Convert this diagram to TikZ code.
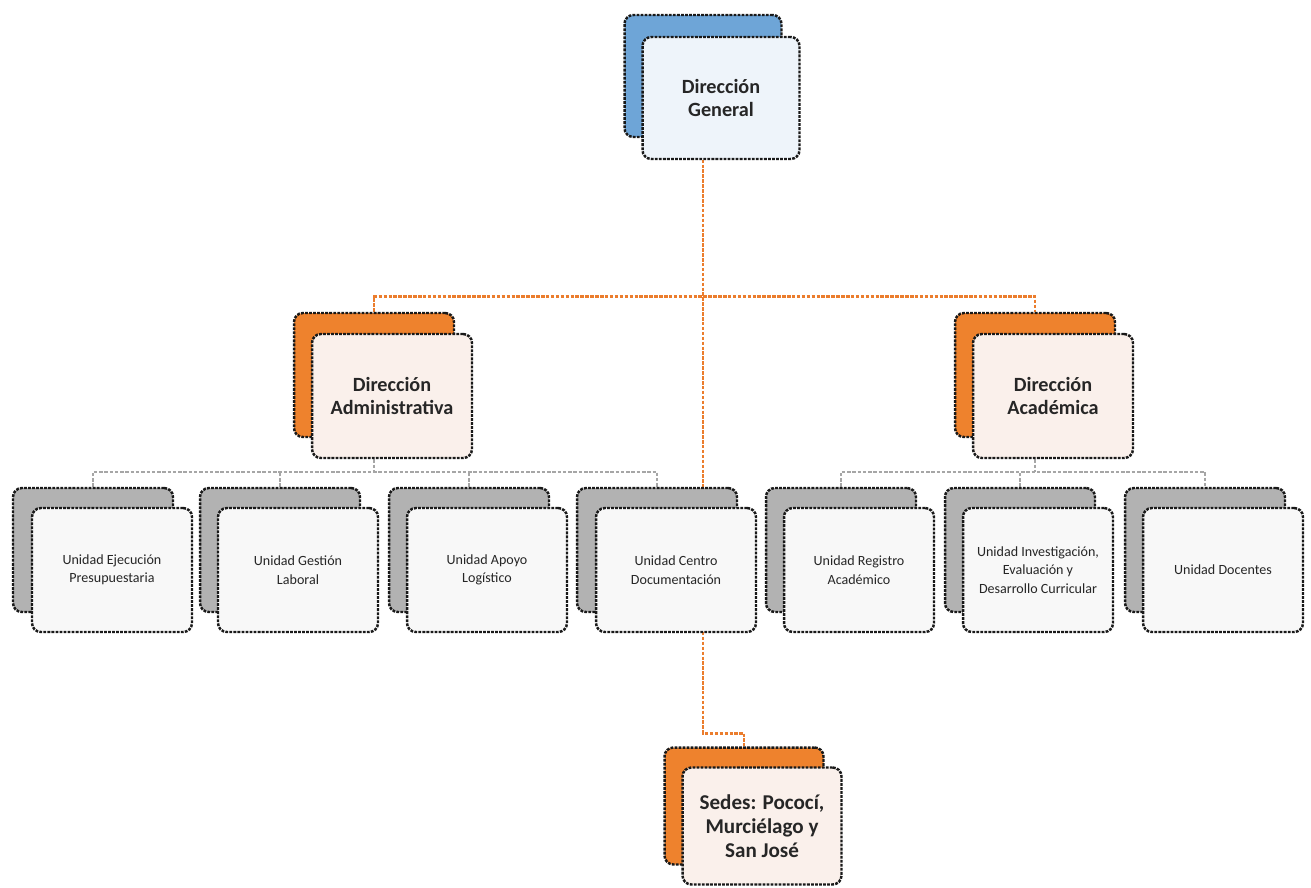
\documentclass[tikz,border=0pt]{standalone}
\usepackage{fontspec}
\setmainfont{Carlito}
\usepackage{tikz}
\usetikzlibrary{positioning}
\usepackage{xcolor}
\definecolor{dgback}{RGB}{110,165,215}
\definecolor{dgfront}{RGB}{238,244,250}
\definecolor{dirback}{RGB}{238,130,45}
\definecolor{dirfront}{RGB}{250,240,235}
\definecolor{unitback}{RGB}{178,178,178}
\definecolor{unitfront}{RGB}{248,248,248}
\definecolor{linorange}{RGB}{235,125,45}
\tikzstyle{frontbox}=[rounded corners=5pt,draw=black!90,line width=1.4pt,dash pattern=on 1.6pt off 0.7pt,minimum width=3.2cm,minimum height=2.48cm,align=center,inner sep=2pt]
\tikzstyle{backbox}=[rounded corners=5pt,draw=black!90,line width=1.4pt,dash pattern=on 1.6pt off 0.7pt,minimum width=3.2cm,minimum height=2.48cm]
\tikzstyle{titletext}=[font=\fontsize{11.5}{13}\selectfont\bfseries,text=black!85]
\tikzstyle{unittext}=[font=\fontsize{8}{10.5}\selectfont,text=black!85]
\tikzstyle{orgline}=[draw=linorange,line width=1.6pt,dash pattern=on 2pt off 0.8pt]
\tikzstyle{grayline}=[draw=gray!70,line width=0.9pt,dash pattern=on 2pt off 1pt]
\pgfdeclarelayer{lines}
\pgfdeclarelayer{back}
\pgfsetlayers{lines,back,main}

\begin{document}
\begin{tikzpicture}[x=0.02cm,y=-0.02cm]
\useasboundingbox (0,0) rectangle (1311,888);

% front boxes
\node[frontbox,titletext,fill=dgfront,minimum width=3.14cm,minimum height=2.44cm] (dg) at (721,98) {Dirección\\General};
\node[frontbox,titletext,fill=dirfront] (adm) at (392,396) {Dirección\\Administrativa};
\node[frontbox,titletext,fill=dirfront] (aca) at (1053,396) {Dirección\\Académica};

\node[frontbox,unittext,fill=unitfront] (u1) at (112,570) {Unidad Ejecución\\Presupuestaria};
\node[frontbox,unittext,fill=unitfront] (u2) at (298,570) {Unidad Gestión\\Laboral};
\node[frontbox,unittext,fill=unitfront] (u3) at (487,570) {Unidad Apoyo\\Logístico};
\node[frontbox,unittext,fill=unitfront] (u4) at (676,570) {Unidad Centro\\Documentación};
\node[frontbox,unittext,fill=unitfront,minimum width=3cm] (u5) at (859,570) {Unidad Registro\\Académico};
\node[frontbox,unittext,fill=unitfront,minimum width=3cm] (u6) at (1038,570) {Unidad Investigación,\\Evaluación y\\Desarrollo Curricular};
\node[frontbox,unittext,fill=unitfront] (u7) at (1223,570) {Unidad Docentes};

\node[frontbox,titletext,fill=dirfront,font=\fontsize{12}{13.5}\selectfont\bfseries,minimum width=3.18cm,minimum height=2.34cm] (sed) at (762,826) {Sedes: Pococí,\\Murciélago y\\San José};

% back boxes
\begin{pgfonlayer}{back}
\node[backbox,fill=dgback,minimum width=3.14cm,minimum height=2.44cm] (dgb) at ([xshift=-0.36cm,yshift=0.44cm]dg.center) {};
\node[backbox,fill=dirback] (admb) at ([xshift=-0.36cm,yshift=0.42cm]adm.center) {};
\node[backbox,fill=dirback] (acab) at ([xshift=-0.36cm,yshift=0.42cm]aca.center) {};
\node[backbox,fill=unitback] (u1b) at ([xshift=-0.38cm,yshift=0.4cm]u1.center) {};
\node[backbox,fill=unitback] (u2b) at ([xshift=-0.36cm,yshift=0.4cm]u2.center) {};
\node[backbox,fill=unitback] (u3b) at ([xshift=-0.36cm,yshift=0.4cm]u3.center) {};
\node[backbox,fill=unitback] (u4b) at ([xshift=-0.38cm,yshift=0.4cm]u4.center) {};
\node[backbox,fill=unitback,minimum width=3cm] (u5b) at ([xshift=-0.36cm,yshift=0.4cm]u5.center) {};
\node[backbox,fill=unitback,minimum width=3cm] (u6b) at ([xshift=-0.36cm,yshift=0.4cm]u6.center) {};
\node[backbox,fill=unitback] (u7b) at ([xshift=-0.36cm,yshift=0.4cm]u7.center) {};
\node[backbox,fill=dirback,minimum width=3.18cm,minimum height=2.34cm] (sedb) at ([xshift=-0.36cm,yshift=0.4cm]sed.center) {};
\end{pgfonlayer}

% connectors
\begin{pgfonlayer}{lines}
\draw[orgline] (admb.north) -- ++(0,-15) coordinate (oa) -| (acab.north);
\draw[orgline] (dgb.center) |- ([yshift=0.26cm]sedb.north) -- (sedb.north);

\draw[grayline] (u1b.north) -- ++(0,-15) coordinate (ga) -| (u4b.north);
\foreach \b in {u2b,u3b} \draw[grayline] (\b.north) -- ++(0,-15);
\draw[grayline] (admb.center) -- (admb.center |- ga);

\draw[grayline] (u5b.north) -- ++(0,-15) coordinate (gb) -| (u7b.north);
\draw[grayline] (u6b.north) -- ++(0,-15);
\draw[grayline] (acab.center) -- (acab.center |- gb);
\end{pgfonlayer}

\end{tikzpicture}
\end{document}
